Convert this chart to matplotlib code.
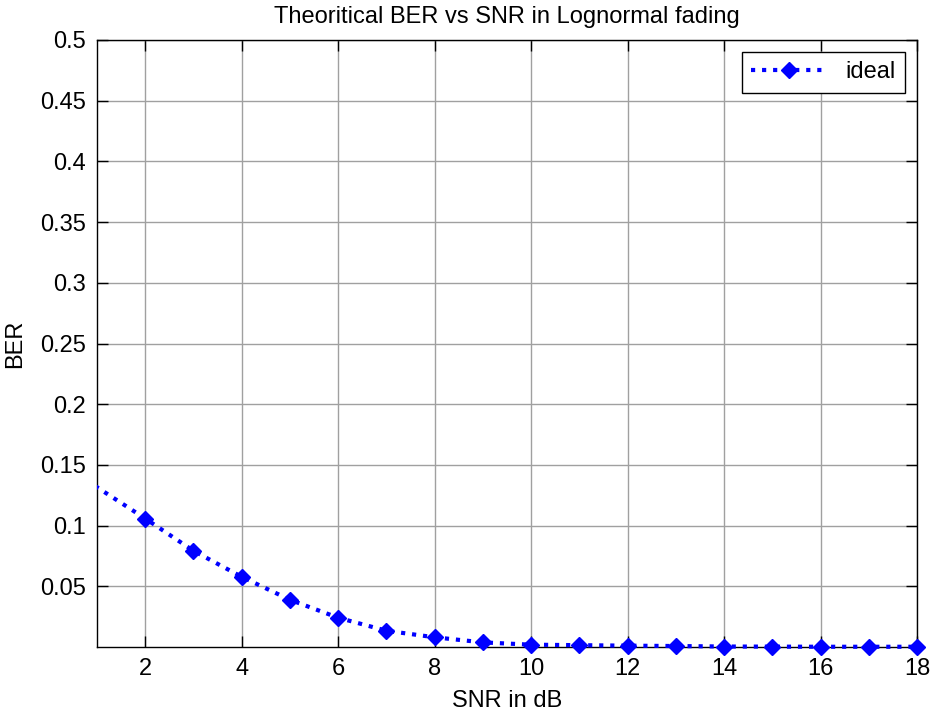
import matplotlib
matplotlib.use("Agg")
import matplotlib.pyplot as plt
from matplotlib.patches import Rectangle

plt.rcParams['font.family'] = ['Liberation Sans', 'DejaVu Sans']

snr_db = [0, 2, 3, 4, 5, 6, 7, 8, 9, 10, 11, 12, 13, 14, 15, 16, 17, 18]
ber_ideal = [0.1574, 0.1058, 0.0792, 0.0578, 0.0389, 0.0241, 0.0134, 0.0080, 0.0038,
             0.0019, 0.0015, 0.0011, 0.0008, 0.0004, 0.0003, 0.0002, 0.0002, 0.0002]
xticks = [2, 4, 6, 8, 10, 12, 14, 16, 18]
yticks = [0.05, 0.1, 0.15, 0.2, 0.25, 0.3, 0.35, 0.4, 0.45, 0.5]
ytick_labels = ['0.05', '0.1', '0.15', '0.2', '0.25', '0.3', '0.35', '0.4', '0.45', '0.5']

fig = plt.figure(figsize=(9.31, 7.10), dpi=100)
ax = fig.add_axes([97/931, 1 - 647/710, (917-97)/931, (647-40)/710])

line, = ax.plot(snr_db, ber_ideal, linestyle=':', color='#0000ff', linewidth=3,
                marker='D', markersize=8.5, markerfacecolor='#0000ff',
                markeredgecolor='#0000ff', label='ideal', zorder=3)
# clip only at the left edge (like the reference), leave right/bottom markers whole
clip = Rectangle((0, -0.1), 1.2, 1.2, transform=ax.transAxes, visible=False)
ax.add_patch(clip)
line.set_clip_path(clip)

ax.set_xlim(1, 18)
ax.set_ylim(0, 0.5)
ax.set_xticks(xticks)
ax.set_yticks(yticks)
ax.set_yticklabels(ytick_labels)
ax.tick_params(direction='in', top=True, right=True, labelsize=17, length=8, width=1, pad=8)
ax.grid(True, color='#a0a0a0', linewidth=1, linestyle='-')
ax.set_axisbelow(True)
for s in ax.spines.values():
    s.set_linewidth(1)
    s.set_color('black')

ax.set_title('Theoritical BER vs SNR in Lognormal fading', fontsize=17, pad=12)
ax.set_xlabel('SNR in dB', fontsize=17, labelpad=7)
ax.set_ylabel('BER', fontsize=17, labelpad=10)

leg = ax.legend(loc='upper right', fontsize=17, fancybox=False, framealpha=1,
                edgecolor='black', handlelength=3.2, borderaxespad=0.5,
                borderpad=0.4, handletextpad=0.8)
leg.get_frame().set_linewidth(1)

fig.savefig('out.png', dpi=100, facecolor='white')
